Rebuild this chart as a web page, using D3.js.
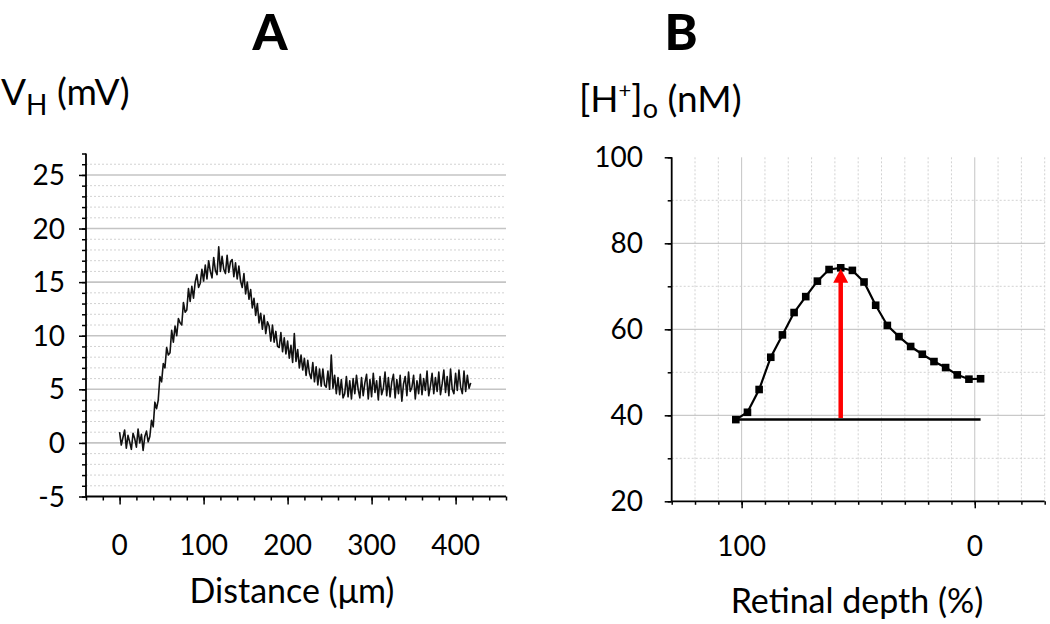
<!DOCTYPE html>
<html>
<head>
<meta charset="utf-8">
<script src="https://cdn.jsdelivr.net/npm/d3@7"></script>
<style>
  html, body { margin: 0; padding: 0; background: #fff; }
  svg { display: block; font-family: Lato, "Open Sans", sans-serif; }
</style>
</head>
<body>
<script>
// ---------- Panel A data: V_H trace (mV) sampled every 2 µm from 0 µm ----------
const distanceStartUm = 0;
const distanceStepUm = 2;
const potentialMv = [
  1.0, -0.2, 0.5, 1.2, -0.5, 0.7, 0.1, -0.6, 0.9, 0.4,
  -0.4, 1.3, 0.0, 0.8, -0.7, 0.6, 1.1, 0.1, 0.6, 2.1,
  1.5, 3.8, 3.2, 4.0, 6.2, 5.7, 7.4, 7.0, 8.9, 8.2,
  8.4, 10.5, 9.4, 10.9, 10.0, 11.6, 11.2, 11.0, 13.1, 12.2,
  12.4, 14.4, 13.2, 14.6, 13.5, 15.0, 15.7, 14.5, 14.9, 16.2,
  15.1, 16.6, 15.3, 17.0, 16.0, 15.4, 17.3, 16.1, 15.7, 18.3,
  16.0, 17.4, 16.2, 15.8, 17.5, 15.9, 16.9, 17.1, 15.5, 16.8,
  15.3, 16.5, 15.1, 14.5, 15.8, 13.9, 15.0, 13.4, 14.3, 12.6,
  13.5, 11.9, 13.0, 11.2, 12.1, 10.6, 11.9, 10.2, 11.3, 10.9,
  9.5, 11.0, 9.4, 10.4, 9.0, 8.9, 10.3, 8.5, 9.8, 8.3,
  9.5, 7.9, 9.1, 7.5, 10.2, 7.6, 8.7, 7.0, 8.2, 6.8,
  7.9, 6.3, 7.7, 6.5, 6.0, 7.5, 5.7, 7.1, 5.4, 6.9,
  5.3, 6.9, 5.4, 5.2, 6.7, 5.0, 8.2, 5.1, 6.3, 4.6,
  6.1, 4.5, 5.9, 4.2, 4.6, 6.2, 4.3, 5.8, 4.1, 6.0,
  4.6, 6.3, 5.0, 4.2, 6.1, 4.4, 5.6, 6.4, 4.1, 5.9,
  4.3, 6.5, 4.7, 5.8, 4.0, 6.2, 4.5, 5.1, 6.6, 4.4,
  6.1, 4.3, 5.7, 6.4, 4.2, 5.9, 4.6, 6.3, 3.9, 5.5,
  6.2, 4.4, 6.6, 4.8, 5.2, 6.3, 4.1, 5.8, 4.6, 6.4,
  4.5, 6.0, 4.9, 6.7, 4.4, 5.3, 6.5, 4.6, 6.1, 4.8,
  6.6, 4.5, 5.5, 6.8, 4.7, 6.2, 4.4, 6.9, 5.0, 4.6,
  6.5, 4.9, 6.8, 5.2, 4.6, 6.7, 4.8, 6.3, 5.1, 5.6
];
const aXTicks = [0, 100, 200, 300, 400];
const aYTicks = [-5, 0, 5, 10, 15, 20, 25];

// ---------- Panel B data: [H+]o (nM) vs retinal depth (%) ----------
const retinalDepth = [102.5, 97.5, 92.5, 87.5, 82.5, 77.5, 72.5, 67.5, 62.5, 57.5, 52.5,
                      47.5, 42.5, 37.5, 32.5, 27.5, 22.5, 17.5, 12.5, 7.5, 2.5, -2.5];
const hConcentration = [39.0, 40.7, 46.0, 53.5, 58.7, 63.9, 67.6, 71.2, 73.9, 74.3, 73.7,
                        71.0, 65.6, 60.9, 58.3, 56.0, 54.2, 52.5, 51.1, 49.4, 48.4, 48.5];
const baselineLevel = 39.0;
const baselineDepthRange = [102.5, -2.5];
const arrowDepth = 57.5;
const arrowRange = [39.4, 74.1];
const bXTicks = [100, 0];
const bYTicks = [20, 40, 60, 80, 100];

// ---------- Setup ----------
const W = 1050, H = 624;
const svg = d3.select("body").append("svg").attr("width", W).attr("height", H);

const gridMajor = "#c4c4c4", gridMinor = "#d2d2d2";
const tickFont = 28;

// ================= Panel A =================
const xA = d3.scaleLinear().domain([-40, 460]).range([86, 506]);
const yA = d3.scaleLinear().domain([-5, 27]).range([496.5, 153.5]);
const gA = svg.append("g");

const aGridVals = d3.range(-4, 27);
gA.selectAll("line.gridA").data(aGridVals).join("line")
  .attr("x1", xA(-40)).attr("x2", xA(460))
  .attr("y1", d => yA(d)).attr("y2", d => yA(d))
  .attr("stroke", d => d % 5 === 0 ? gridMajor : gridMinor)
  .attr("stroke-width", d => d % 5 === 0 ? 1.6 : 1)
  .attr("stroke-dasharray", d => d % 5 === 0 ? null : "2,2");

const traceLine = d3.line()
  .x((d, i) => xA(distanceStartUm + i * distanceStepUm))
  .y(d => yA(d));
gA.append("path").datum(potentialMv)
  .attr("d", traceLine)
  .attr("fill", "none").attr("stroke", "#111").attr("stroke-width", 1.6)
  .attr("stroke-linejoin", "round");

const aMinorY = d3.range(-5, 28);
gA.append("g").attr("transform", `translate(${xA(-40)},0)`)
  .call(d3.axisLeft(yA).tickValues(aMinorY).tickSize(4).tickFormat(""))
  .call(g => g.select(".domain").remove());
gA.append("g").attr("transform", `translate(${xA(-40)},0)`)
  .call(d3.axisLeft(yA).tickValues(aYTicks).tickSize(7).tickFormat(""))
  .call(g => g.select(".domain").remove());
const aMinorX = d3.range(-40, 461, 20);
gA.append("g").attr("transform", `translate(0,${yA(-5)})`)
  .call(d3.axisBottom(xA).tickValues(aMinorX).tickSize(4).tickFormat(""))
  .call(g => g.select(".domain").remove());
gA.append("g").attr("transform", `translate(0,${yA(-5)})`)
  .call(d3.axisBottom(xA).tickValues(aXTicks).tickSize(8).tickFormat(""))
  .call(g => g.select(".domain").remove());
gA.selectAll(".tick line").attr("stroke", "#000").attr("stroke-width", 1.5);
gA.append("line").attr("x1", xA(-40)).attr("x2", xA(-40)).attr("y1", yA(27)).attr("y2", yA(-5))
  .attr("stroke", "#000").attr("stroke-width", 1.8);
gA.append("line").attr("x1", xA(-40)).attr("x2", xA(460)).attr("y1", yA(-5)).attr("y2", yA(-5))
  .attr("stroke", "#000").attr("stroke-width", 1.8);

gA.selectAll("text.ay").data(aYTicks).join("text")
  .attr("x", 65).attr("y", d => yA(d) + 10)
  .attr("text-anchor", "end").attr("font-size", tickFont).text(d => String(d));
gA.selectAll("text.ax").data(aXTicks).join("text")
  .attr("x", d => xA(d)).attr("y", 555)
  .attr("text-anchor", "middle").attr("font-size", tickFont).text(d => String(d));

gA.append("text").attr("x", 292).attr("y", 603).attr("text-anchor", "middle")
  .attr("font-size", 34).text("Distance (μm)");
const vLab = gA.append("text").attr("x", 1).attr("y", 105).attr("font-size", 37);
vLab.append("tspan").text("V");
vLab.append("tspan").attr("font-size", 28).attr("dy", 10).text("H");
vLab.append("tspan").attr("dy", -10).text(" (mV)");
gA.append("text").attr("x", 270).attr("y", 50).attr("text-anchor", "middle")
  .attr("font-size", 50).attr("font-weight", 900).text("A");

// ================= Panel B =================
const xB = d3.scaleLinear().domain([130, -30]).range([671.7, 1044.7]);
const yB = d3.scaleLinear().domain([20, 100]).range([501.3, 157.3]);
const gB = svg.append("g");

const bGridX = d3.range(-30, 121, 10);
gB.selectAll("line.gvx").data(bGridX).join("line")
  .attr("x1", d => xB(d)).attr("x2", d => xB(d))
  .attr("y1", yB(100)).attr("y2", yB(20))
  .attr("stroke", d => d % 100 === 0 ? gridMajor : gridMinor)
  .attr("stroke-width", 1)
  .attr("stroke-dasharray", d => d % 100 === 0 ? null : "2,2");
const bGridY = d3.range(30, 91, 10);
gB.selectAll("line.gvy").data(bGridY).join("line")
  .attr("x1", xB(130)).attr("x2", xB(-30))
  .attr("y1", d => yB(d)).attr("y2", d => yB(d))
  .attr("stroke", d => d % 20 === 0 ? "#bcbcbc" : gridMinor)
  .attr("stroke-width", 1)
  .attr("stroke-dasharray", d => d % 20 === 0 ? null : "2,2");

gB.append("g").attr("transform", `translate(${xB(130)},0)`)
  .call(d3.axisLeft(yB).tickValues(d3.range(20, 101, 10)).tickSize(4).tickFormat(""))
  .call(g => g.select(".domain").remove());
gB.append("g").attr("transform", `translate(${xB(130)},0)`)
  .call(d3.axisLeft(yB).tickValues(bYTicks).tickSize(7).tickFormat(""))
  .call(g => g.select(".domain").remove());
gB.append("g").attr("transform", `translate(0,${yB(20)})`)
  .call(d3.axisBottom(xB).tickValues(d3.range(-30, 131, 10)).tickSize(3.5).tickFormat(""))
  .call(g => g.select(".domain").remove());
gB.append("g").attr("transform", `translate(0,${yB(20)})`)
  .call(d3.axisBottom(xB).tickValues(bXTicks).tickSize(7).tickFormat(""))
  .call(g => g.select(".domain").remove());
gB.selectAll(".tick line").attr("stroke", "#000").attr("stroke-width", 1.5);
gB.append("line").attr("x1", xB(130)).attr("x2", xB(130)).attr("y1", yB(100)).attr("y2", yB(20))
  .attr("stroke", "#000").attr("stroke-width", 1.8);
gB.append("line").attr("x1", xB(130)).attr("x2", xB(-30)).attr("y1", yB(20)).attr("y2", yB(20))
  .attr("stroke", "#000").attr("stroke-width", 1.8);

gB.append("line")
  .attr("x1", xB(baselineDepthRange[0])).attr("x2", xB(baselineDepthRange[1]))
  .attr("y1", yB(baselineLevel)).attr("y2", yB(baselineLevel))
  .attr("stroke", "#000").attr("stroke-width", 2.5);

const pts = retinalDepth.map((d, i) => [d, hConcentration[i]]);
gB.append("path").datum(pts)
  .attr("d", d3.line().x(d => xB(d[0])).y(d => yB(d[1])))
  .attr("fill", "none").attr("stroke", "#000").attr("stroke-width", 2.2);
gB.selectAll("rect.pt").data(pts).join("rect")
  .attr("x", d => xB(d[0]) - 3.8).attr("y", d => yB(d[1]) - 3.8)
  .attr("width", 7.6).attr("height", 7.6).attr("fill", "#000");

const ax = xB(arrowDepth), ay0 = yB(arrowRange[0]), ay1 = yB(arrowRange[1]);
const headLen = 14, headW = 15;
gB.append("line").attr("x1", ax).attr("x2", ax).attr("y1", ay0).attr("y2", ay1 + headLen - 1)
  .attr("stroke", "#ff0000").attr("stroke-width", 4.5);
gB.append("path")
  .attr("d", `M${ax},${ay1} L${ax - headW / 2},${ay1 + headLen} L${ax + headW / 2},${ay1 + headLen} Z`)
  .attr("fill", "#ff0000");

gB.selectAll("text.by").data(bYTicks).join("text")
  .attr("x", 643).attr("y", d => yB(d) + 10)
  .attr("text-anchor", "end").attr("font-size", tickFont).text(d => String(d));
gB.selectAll("text.bx").data(bXTicks).join("text")
  .attr("x", d => xB(d)).attr("y", 556)
  .attr("text-anchor", "middle").attr("font-size", tickFont).text(d => String(d));

gB.append("text").attr("x", 857).attr("y", 613).attr("text-anchor", "middle")
  .attr("font-size", 34).text("Retinal depth (%)");
const hLab = gB.append("text").attr("x", 579).attr("y", 112).attr("font-size", 37);
hLab.append("tspan").text("[H");
hLab.append("tspan").attr("font-size", 22).attr("dy", -14).text("+");
hLab.append("tspan").attr("dy", 14).text("]");
hLab.append("tspan").attr("font-size", 27).attr("dy", 6).text("o");
hLab.append("tspan").attr("dy", -6).text(" (nM)");
gB.append("text").attr("x", 681).attr("y", 50).attr("text-anchor", "middle")
  .attr("font-size", 50).attr("font-weight", 900).text("B");
</script>
</body>
</html>
